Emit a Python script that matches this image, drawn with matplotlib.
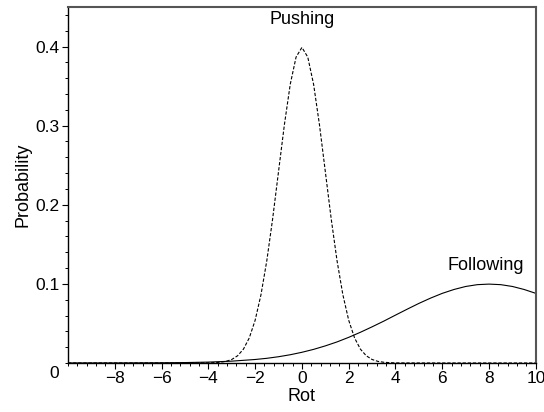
import matplotlib.pyplot as plt
from matplotlib.ticker import MultipleLocator

plt.rcParams["font.family"] = ["Liberation Sans", "DejaVu Sans"]

# Pushing: narrow peak around zero
push_x = [-10, -5, -4, -3.75, -3.5, -3.25, -3, -2.75, -2.5, -2.25, -2, -1.75, -1.5,
          -1.25, -1, -0.75, -0.5, -0.25, 0, 0.25, 0.5, 0.75, 1, 1.25, 1.5, 1.75,
          2, 2.25, 2.5, 2.75, 3, 3.25, 3.5, 3.75, 4, 5, 10]
push_y = [0.0, 0.0, 0.0001, 0.0004, 0.0009, 0.0020, 0.0044, 0.0091, 0.0175, 0.0317,
          0.0540, 0.0863, 0.1295, 0.1826, 0.2420, 0.3011, 0.3521, 0.3867, 0.3989,
          0.3867, 0.3521, 0.3011, 0.2420, 0.1826, 0.1295, 0.0863, 0.0540, 0.0317,
          0.0175, 0.0091, 0.0044, 0.0020, 0.0009, 0.0004, 0.0001, 0.0, 0.0]

# Following: wide bump peaking near 8
follow_x = [-10, -9, -8, -7, -6, -5, -4, -3, -2, -1.5, -1, -0.5, 0, 0.5, 1, 1.5, 2,
            2.5, 3, 3.5, 4, 4.5, 5, 5.5, 6, 6.5, 7, 7.5, 8, 8.5, 9, 9.5, 10]
follow_y = [0.0, 0.0, 0.0, 0.0001, 0.0002, 0.0005, 0.0011, 0.0023, 0.0044, 0.0059,
            0.0079, 0.0104, 0.0135, 0.0172, 0.0216, 0.0266, 0.0324, 0.0388, 0.0457,
            0.0529, 0.0605, 0.0680, 0.0753, 0.0820, 0.0880, 0.0929, 0.0967, 0.0990,
            0.0997, 0.0990, 0.0967, 0.0929, 0.0880]

x_ticks = [-8, -6, -4, -2, 0, 2, 4, 6, 8, 10]
y_ticks = [0.1, 0.2, 0.3, 0.4]

fig = plt.figure(figsize=(5.44, 4.12), dpi=100)
ax = fig.add_axes([0.125, 0.119, 0.86, 0.864])

ax.plot(push_x, push_y, color="black", lw=0.8, linestyle=(0, (3, 1.6)))
ax.plot(follow_x, follow_y, color="black", lw=0.8)

ax.set_xlim(-10, 10)
ax.set_ylim(0, 0.45)
ax.set_xticks(x_ticks)
ax.set_xticklabels(["\u2212%d" % -v if v < 0 else str(v) for v in x_ticks])
ax.set_yticks(y_ticks)
ax.set_yticklabels([str(v) for v in y_ticks])
ax.xaxis.set_minor_locator(MultipleLocator(0.4))
ax.yaxis.set_minor_locator(MultipleLocator(0.02))
ax.tick_params(which="major", direction="out", length=4, width=0.8, labelsize=12.5, pad=2)
ax.tick_params(which="minor", direction="out", length=2.5, width=0.7)

for side in ("left", "bottom"):
    ax.spines[side].set_linewidth(1.0)
for side in ("top", "right"):
    ax.spines[side].set_color("#555555")
    ax.spines[side].set_linewidth(1.5)

ax.text(-10.4, -0.004, "0", ha="right", va="top", fontsize=12.5)
ax.text(0, 0.445, "Pushing", ha="center", va="top", fontsize=13)
ax.text(7.85, 0.112, "Following", ha="center", va="bottom", fontsize=13)

ax.set_xlabel("Rot", fontsize=13, labelpad=1)
ax.set_ylabel("Probability", fontsize=13, labelpad=3)

fig.savefig("out.png", dpi=100)
